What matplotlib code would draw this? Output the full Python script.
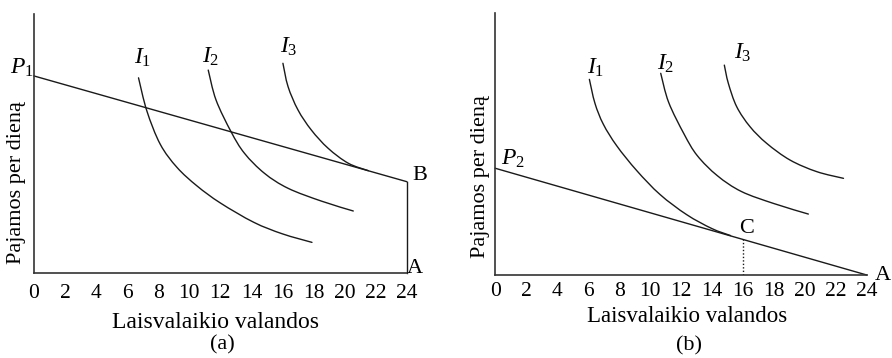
import matplotlib
matplotlib.use("Agg")
import matplotlib.pyplot as plt
from matplotlib.path import Path
from matplotlib.patches import PathPatch

plt.rcParams['font.family'] = ['Liberation Serif', 'DejaVu Serif']
plt.rcParams['mathtext.fontset'] = 'custom'
plt.rcParams['mathtext.rm'] = 'Liberation Serif'
plt.rcParams['mathtext.it'] = 'Liberation Serif:italic'

# ---------------- data ----------------
x_ticks = [0, 2, 4, 6, 8, 10, 12, 14, 16, 18, 20, 22, 24]
x_label = "Laisvalaikio valandos"
y_label = "Pajamos per dieną"

# panel (a): budget line P1 -> B -> A
budget_a_x = [0, 24]
budget_a_y = [12.72, 5.88]
wall_a_x = [24, 24]
wall_a_y = [5.88, 0]

a_I1_x = [6.73, 7.27, 8.13, 9.21, 10.5, 12.0, 14.15, 16.0, 17.9]
a_I1_y = [12.6, 10.45, 8.3, 6.8, 5.6, 4.5, 3.25, 2.5, 1.95]
a_I2_x = [11.22, 11.72, 12.69, 13.55, 14.84, 16.36, 18.51, 20.56]
a_I2_y = [13.1, 11.17, 9.11, 7.72, 6.42, 5.45, 4.62, 3.98]
a_I3_x = [16.03, 16.36, 17.0, 17.86, 18.94, 20.24, 21.53]
a_I3_y = [13.54, 12.03, 10.52, 9.22, 8.04, 7.07, 6.59]

# panel (b): budget line P2 -> A, optimum C
budget_b_x = [0, 24]
budget_b_y = [6.9, 0]
c_x = 16
c_y = 2.3

b_I1_x = [6.08, 6.44, 6.98, 7.85, 9.14, 10.65, 12.37, 14.0, 15.2]
b_I1_y = [12.65, 11.10, 9.75, 8.35, 6.75, 5.2, 3.9, 3.0, 2.55]
b_I2_x = [10.69, 11.2, 12.2, 13.05, 14.35, 15.9, 18.0, 20.23]
b_I2_y = [13.04, 11.17, 9.11, 7.72, 6.42, 5.4, 4.62, 3.94]
b_I3_x = [14.80, 15.06, 15.60, 16.46, 17.54, 19.05, 20.78, 22.50]
b_I3_y = [13.57, 12.39, 10.88, 9.59, 8.51, 7.43, 6.68, 6.25]

# ---------------- figure ----------------
W, H = 892, 358
fig = plt.figure(figsize=(W / 100, H / 100), dpi=100)

LC = '#1a1a1a'
LW = 1.0
TICK_FS = 15.5
XLAB_FS = 17
YLAB_FS = 16
LAB_FS = 16
SYM_FS = 17


def smooth_curve(ax, xs, ys):
    """Draw a smooth curve through the read points (Catmull-Rom as cubic Bezier)."""
    pts = list(zip(xs, ys))
    n = len(pts)
    verts = [pts[0]]
    codes = [Path.MOVETO]
    for i in range(n - 1):
        p0 = pts[i - 1] if i > 0 else pts[i]
        p1 = pts[i]
        p2 = pts[i + 1]
        p3 = pts[i + 2] if i + 2 < n else pts[i + 1]
        c1 = (p1[0] + (p2[0] - p0[0]) / 6, p1[1] + (p2[1] - p0[1]) / 6)
        c2 = (p2[0] - (p3[0] - p1[0]) / 6, p2[1] - (p3[1] - p1[1]) / 6)
        verts += [c1, c2, p2]
        codes += [Path.CURVE4] * 3
    ax.add_patch(PathPatch(Path(verts, codes), fill=False, edgecolor=LC,
                           lw=LW, capstyle='round'))


def make_axes(left_px, right_px, top_px, bottom_px, ytop, pad):
    ax = fig.add_axes([left_px / W, (H - bottom_px) / H,
                       (right_px - left_px) / W, (bottom_px - top_px) / H])
    ax.set_xlim(0, 24)
    ax.set_ylim(0, ytop)
    for s in ('top', 'right'):
        ax.spines[s].set_visible(False)
    for s in ('left', 'bottom'):
        ax.spines[s].set_color('#333333')
        ax.spines[s].set_linewidth(1.2)
    ax.set_xticks(x_ticks)
    ax.set_xticklabels([str(t) for t in x_ticks])
    ax.set_yticks([])
    ax.tick_params(axis='x', length=0, pad=pad, labelsize=TICK_FS)
    ax.patch.set_alpha(0)
    return ax


# ---- panel (a)
axa = make_axes(34, 406.7, 14, 272.5, 16.73, 8)
axa.plot(budget_a_x, budget_a_y, color=LC, lw=LW, clip_on=False)
axa.plot(wall_a_x, wall_a_y, color=LC, lw=LW, clip_on=False)
for xs, ys in ((a_I1_x, a_I1_y), (a_I2_x, a_I2_y), (a_I3_x, a_I3_y)):
    smooth_curve(axa, xs, ys)
axa.text(6.99, 13.88, r'$I_1$', fontsize=SYM_FS, ha='center', va='center')
axa.text(11.39, 13.95, r'$I_2$', fontsize=SYM_FS, ha='center', va='center')
axa.text(16.38, 14.6, r'$I_3$', fontsize=SYM_FS, ha='center', va='center')
axa.text(-0.78, 13.24, r'$P_1$', fontsize=SYM_FS, ha='center', va='center', clip_on=False)
axa.text(24.85, 6.25, 'B', fontsize=LAB_FS, ha='center', va='center', clip_on=False)
axa.text(24.53, 0.27, 'A', fontsize=LAB_FS, ha='center', va='center', clip_on=False)

fig.text(216 / W, 1 - 322 / H, x_label, fontsize=XLAB_FS, ha='center', va='center')
fig.text(222 / W, 1 - 345 / H, '(a)', fontsize=LAB_FS, ha='center', va='center')
fig.text(17 / W, 1 - 183 / H, y_label, fontsize=YLAB_FS, ha='center', va='center', rotation=90)

# ---- panel (b)
axb = make_axes(495.3, 866.7, 13, 275, 16.94, 5)
axb.plot(budget_b_x, budget_b_y, color=LC, lw=LW, clip_on=False)
axb.plot([c_x, c_x], [0, c_y], color=LC, lw=1.0, ls=(0, (1, 1.5)))
for xs, ys in ((b_I1_x, b_I1_y), (b_I2_x, b_I2_y), (b_I3_x, b_I3_y)):
    smooth_curve(axb, xs, ys)
axb.text(6.51, 13.38, r'$I_1$', fontsize=SYM_FS, ha='center', va='center')
axb.text(11.03, 13.64, r'$I_2$', fontsize=SYM_FS, ha='center', va='center')
axb.text(16.01, 14.35, r'$I_3$', fontsize=SYM_FS, ha='center', va='center')
axb.text(1.12, 7.54, r'$P_2$', fontsize=SYM_FS, ha='center', va='center')
axb.text(16.25, 3.02, 'C', fontsize=LAB_FS, ha='center', va='center')
axb.text(25.04, 0.0, 'A', fontsize=LAB_FS, ha='center', va='center', clip_on=False)

fig.text(687 / W, 1 - 317 / H, x_label, fontsize=16.5, ha='center', va='center')
fig.text(689 / W, 1 - 346 / H, '(b)', fontsize=LAB_FS, ha='center', va='center')
fig.text(481 / W, 1 - 177 / H, y_label, fontsize=YLAB_FS, ha='center', va='center', rotation=90)

fig.savefig('out.png', dpi=100, facecolor='white')
